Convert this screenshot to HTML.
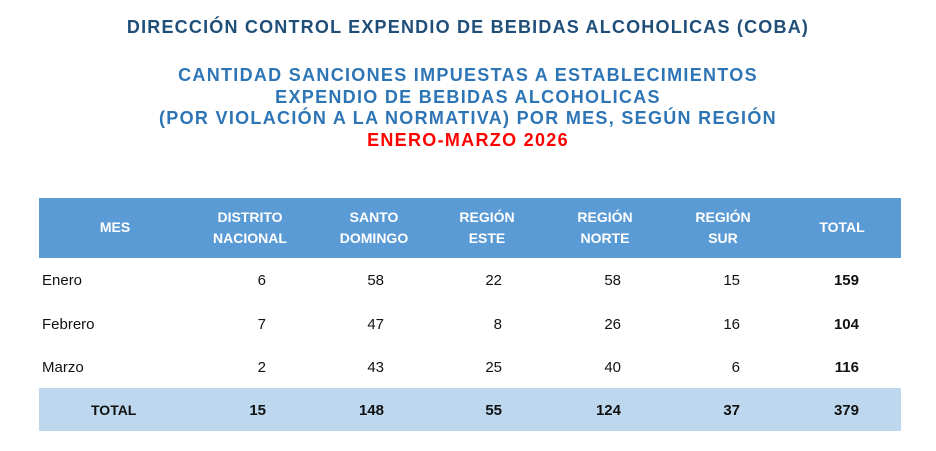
<!DOCTYPE html>
<html><head><meta charset="utf-8"><style>
body{margin:0;width:936px;height:451px;background:#fff;position:relative;overflow:hidden;font-family:"Liberation Sans",sans-serif}
.t{position:absolute;left:0;width:936px;text-align:center;font-weight:bold;white-space:nowrap}
.a{position:absolute;white-space:nowrap;font-size:15px;color:#111}
.r{text-align:right;width:80px}
.c{text-align:center;width:120px;color:#fff;font-weight:bold;font-size:14px;line-height:21px}
.b{font-weight:bold}
</style></head><body>
<div class="t" style="top:17px;font-size:18px;letter-spacing:1.2px;color:#1f4e79">DIRECCIÓN CONTROL EXPENDIO DE BEBIDAS ALCOHOLICAS (COBA)</div>
<div class="t" style="top:65px;font-size:18px;letter-spacing:1.3px;color:#2e75b6;line-height:21.5px">CANTIDAD SANCIONES IMPUESTAS A ESTABLECIMIENTOS<br>EXPENDIO DE BEBIDAS ALCOHOLICAS<br>(POR VIOLACIÓN A LA NORMATIVA) POR MES, SEGÚN REGIÓN<br><span style="color:#ff0000">ENERO-MARZO 2026</span></div>
<div style="position:absolute;left:39px;top:198px;width:862px;height:60px;background:#5b9bd5"></div>
<div style="position:absolute;left:39px;top:388px;width:862px;height:43px;background:#bdd7ee"></div>
<div class="a c" style="left:55px;top:217px">MES</div>
<div class="a c" style="left:190px;top:207px">DISTRITO<br>NACIONAL</div>
<div class="a c" style="left:314px;top:207px">SANTO<br>DOMINGO</div>
<div class="a c" style="left:427px;top:207px">REGIÓN<br>ESTE</div>
<div class="a c" style="left:545px;top:207px">REGIÓN<br>NORTE</div>
<div class="a c" style="left:663px;top:207px">REGIÓN<br>SUR</div>
<div class="a c" style="left:782px;top:217px">TOTAL</div>

<div class="a" style="left:42px;top:272px">Enero</div>
<div class="a" style="left:42px;top:316px">Febrero</div>
<div class="a" style="left:42px;top:359px">Marzo</div>
<div class="a b" style="left:91px;top:402px;font-size:14px">TOTAL</div>

<div class="a r" style="left:186px;top:272px">6</div>
<div class="a r" style="left:304px;top:272px">58</div>
<div class="a r" style="left:422px;top:272px">22</div>
<div class="a r" style="left:541px;top:272px">58</div>
<div class="a r" style="left:660px;top:272px">15</div>
<div class="a r b" style="left:779px;top:272px">159</div>

<div class="a r" style="left:186px;top:316px">7</div>
<div class="a r" style="left:304px;top:316px">47</div>
<div class="a r" style="left:422px;top:316px">8</div>
<div class="a r" style="left:541px;top:316px">26</div>
<div class="a r" style="left:660px;top:316px">16</div>
<div class="a r b" style="left:779px;top:316px">104</div>

<div class="a r" style="left:186px;top:359px">2</div>
<div class="a r" style="left:304px;top:359px">43</div>
<div class="a r" style="left:422px;top:359px">25</div>
<div class="a r" style="left:541px;top:359px">40</div>
<div class="a r" style="left:660px;top:359px">6</div>
<div class="a r b" style="left:779px;top:359px">116</div>

<div class="a r b" style="left:186px;top:402px">15</div>
<div class="a r b" style="left:304px;top:402px">148</div>
<div class="a r b" style="left:422px;top:402px">55</div>
<div class="a r b" style="left:541px;top:402px">124</div>
<div class="a r b" style="left:660px;top:402px">37</div>
<div class="a r b" style="left:779px;top:402px">379</div>
</body></html>
